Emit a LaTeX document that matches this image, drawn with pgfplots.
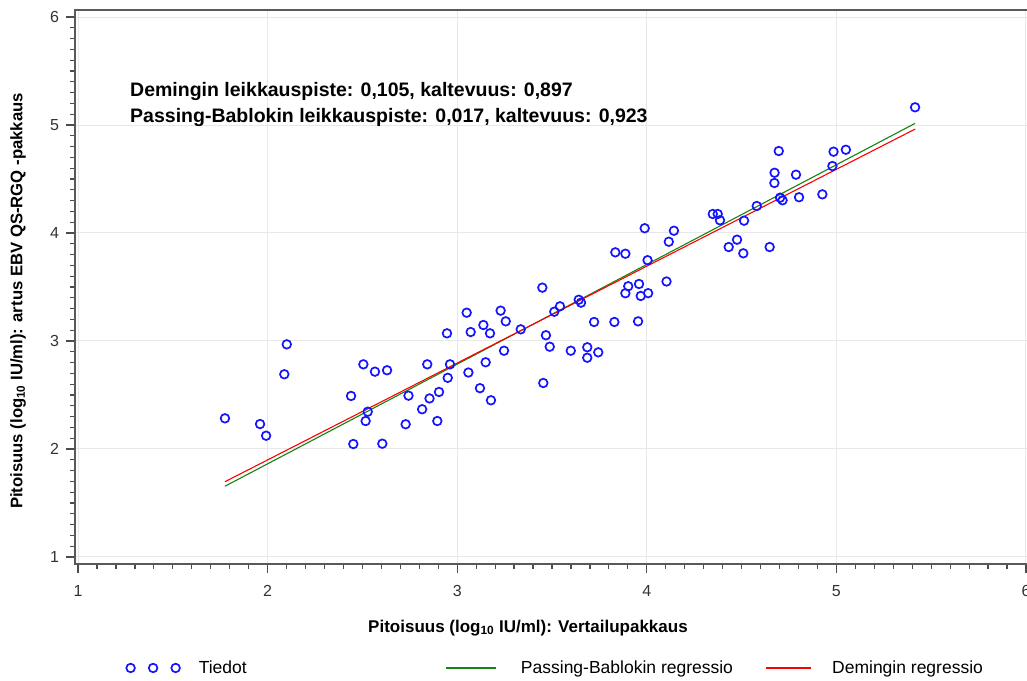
\documentclass[border=0pt]{standalone}
\usepackage{fontspec}
\setmainfont{Liberation Sans}
\usepackage{pgfplots}
\usepackage{pgfplotstable}
\pgfplotsset{compat=1.18}
\definecolor{pbgreen}{RGB}{20,130,20}
\definecolor{demred}{RGB}{255,0,0}
\definecolor{ptblue}{RGB}{20,20,255}
\pgfplotstableread{
x y
1.775 2.284
1.960 2.231
1.992 2.123
2.088 2.692
2.101 2.969
2.440 2.491
2.452 2.046
2.505 2.784
2.517 2.259
2.528 2.345
2.566 2.716
2.605 2.049
2.630 2.729
2.728 2.229
2.743 2.494
2.815 2.368
2.842 2.784
2.854 2.468
2.895 2.259
2.904 2.528
2.946 3.071
2.950 2.659
2.962 2.784
3.059 2.708
3.071 3.083
3.120 2.563
3.178 2.451
3.050 3.262
3.138 3.148
3.173 3.071
3.229 3.281
3.256 3.182
3.150 2.803
3.247 2.910
3.335 3.108
3.449 3.494
3.454 2.611
3.468 3.053
3.488 2.947
3.512 3.271
3.542 3.321
3.599 2.910
3.641 3.382
3.653 3.355
3.686 2.942
3.686 2.845
3.722 3.176
3.744 2.895
3.829 3.176
3.834 3.821
3.887 3.808
3.887 3.442
3.902 3.507
3.954 3.182
3.959 3.528
3.968 3.417
3.989 4.044
4.004 3.748
4.007 3.443
4.104 3.551
4.116 3.919
4.143 4.021
4.348 4.176
4.374 4.176
4.386 4.118
4.432 3.870
4.476 3.938
4.509 3.812
4.513 4.114
4.580 4.250
4.648 3.870
4.673 4.463
4.674 4.558
4.696 4.759
4.703 4.327
4.716 4.303
4.787 4.540
4.803 4.331
4.926 4.358
4.979 4.620
4.985 4.753
5.050 4.771
5.415 5.164
}\datatable
\begin{document}
\begin{tikzpicture}[x=1pt,y=1pt]
\useasboundingbox (0,0) rectangle (1027,680);
\begin{axis}[
  at={(75pt,116pt)}, anchor=south west,
  scale only axis, width=954pt, height=554pt,
  xmin=0.984, xmax=6.016, ymin=0.935, ymax=6.065,
  xtick={1,2,3,4,5,6}, ytick={1,2,3,4,5,6},
  minor tick num=9,
  tick align=outside,
  xtick pos=left, ytick pos=left,
  major tick length=9pt, minor tick length=4.5pt,
  axis line style={draw=black!65, line width=1.5pt},
  every tick/.style={black!70, line width=1.2pt},
  grid=major, major grid style={black!9, line width=1pt},
  /pgf/number format/assume math mode=true,
  ticklabel style={font=\fontsize{16}{16}\selectfont, text=black!80},
  xticklabel style={anchor=center, yshift=-18pt},
  yticklabel style={anchor=center, xshift=-11.5pt},
  xlabel={Pitoisuus (log\textsubscript{10} IU/ml): Vertailupakkaus},
  ylabel={Pitoisuus (log\textsubscript{10} IU/ml): artus EBV QS-RGQ -pakkaus},
  xlabel style={font=\fontsize{17}{17}\selectfont\bfseries, at={(axis description cs:0.4748,-0.1155)}, anchor=center},
  ylabel style={font=\fontsize{16.7}{17}\selectfont\bfseries, at={(axis description cs:-0.0597,0.4747)}, anchor=center, rotate=0},
  legend columns=3,
  legend cell align=left,
  legend style={at={(axis description cs:0.0529,-0.1877)}, anchor=west, draw=none, fill=none,
    inner sep=0pt, outer sep=0pt, font=\fontsize{17.5}{18}\selectfont,
    nodes={inner sep=0pt},
    /tikz/column 1/.style={column sep=18pt},
    /tikz/column 2/.style={column sep=0pt},
    /tikz/column 3/.style={column sep=24pt},
    /tikz/column 4/.style={column sep=0pt},
    /tikz/column 5/.style={column sep=21pt}},
]
\addplot[only marks, mark=o, mark size=4.3pt, color=ptblue, mark options={line width=1.7pt},
  legend image code/.code={\draw[ptblue, line width=1.7pt] (4pt,0pt) circle (4.3pt) (26.5pt,0pt) circle (4.3pt) (49pt,0pt) circle (4.3pt);}]
  table[x=x,y=y] {\datatable};
\addlegendentry{\makebox[247pt][l]{Tiedot}}
\addplot[pbgreen, line width=1.1pt,
  legend image code/.code={\draw[pbgreen, line width=1.2pt] (0pt,0pt) -- (50pt,0pt);}]
  coordinates {(1.775,1.655) (5.415,5.015)};
\addlegendentry{\makebox[244pt][l]{Passing-Bablokin regressio}}
\addplot[demred, line width=1.1pt,
  legend image code/.code={\draw[demred, line width=1.2pt] (0pt,0pt) -- (45pt,0pt);}]
  coordinates {(1.775,1.697) (5.415,4.962)};
\addlegendentry{Demingin regressio}
\node[anchor=base west, font=\fontsize{19.5}{20}\selectfont\bfseries, inner sep=0pt] at (rel axis cs:0.0577,0.8435) {Demingin leikkauspiste: 0,105, kaltevuus: 0,897};
\node[anchor=base west, font=\fontsize{19.5}{20}\selectfont\bfseries, inner sep=0pt] at (rel axis cs:0.0577,0.797) {Passing-Bablokin leikkauspiste: 0,017, kaltevuus: 0,923};
\end{axis}
\end{tikzpicture}
\end{document}
